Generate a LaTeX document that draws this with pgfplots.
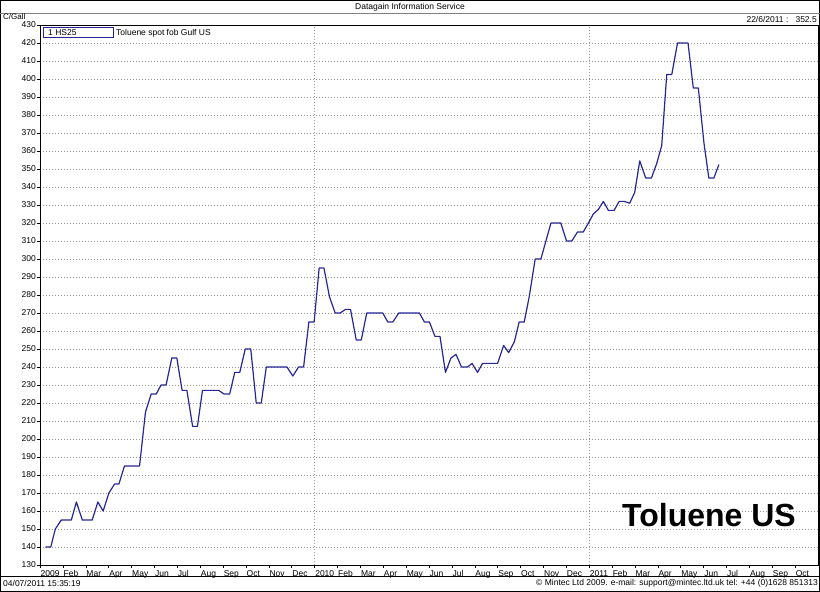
\documentclass[border=0pt]{standalone}
\usepackage{pgfplots}
\pgfplotsset{compat=1.18}
\usepackage{fontspec}
\setmainfont{Liberation Sans}
\definecolor{navyline}{RGB}{38,38,150}
\definecolor{gridgray}{RGB}{150,150,150}
\begin{document}
\begin{tikzpicture}
\fontsize{8.5}{10}\selectfont
\path[use as bounding box] (0,0) rectangle (820pt,592pt);
\begin{axis}[
  at={(40pt,27pt)}, anchor=south west, scale only axis,
  width=778pt, height=540pt,
  xmin=0, xmax=34, ymin=130, ymax=430,
  ytick={130,140,...,430},
  xtick={0,...,33},
  xtick pos=bottom, ytick pos=left,
  xticklabels={2009,Feb,Mar,Apr,May,Jun,Jul,Aug,Sep,Oct,Nov,Dec,2010,Feb,Mar,Apr,May,Jun,Jul,Aug,Sep,Oct,Nov,Dec,2011,Feb,Mar,Apr,May,Jun,Jul,Aug,Sep,Oct},
  xticklabel style={anchor=north west, inner sep=0pt, xshift=0.5pt, yshift=-2.5pt, font=\fontsize{8.5}{10}\selectfont},
  yticklabel style={inner sep=1pt, font=\fontsize{8.5}{10}\selectfont},
  /pgf/number format/assume math mode=true,
  ymajorgrids,
  grid style={gridgray, dash pattern=on 1pt off 2pt, line width=0.6pt},
  extra x ticks={12,24}, extra x tick labels={},
  extra x tick style={grid=major, major tick length=0pt},
  axis line style={black, line width=0.6pt},
  tick style={black, line width=0.5pt},
  tick align=outside, major tick length=3pt,
]
\addplot[navyline, line width=1.2pt, line join=round] coordinates {
(0.23,140) (0.47,140) (0.67,150) (0.93,155) (1.37,155) (1.59,165) (1.85,155) (2.28,155)
(2.53,165) (2.76,160) (3.01,170) (3.26,175) (3.45,175) (3.69,185) (4.35,185) (4.61,215)
(4.86,225) (5.08,225) (5.29,230) (5.51,230) (5.76,245) (5.98,245) (6.21,227) (6.42,227)
(6.67,207) (6.88,207) (7.10,227) (7.81,227) (8.04,225) (8.29,225) (8.51,237) (8.73,237)
(8.97,250) (9.21,250) (9.45,220) (9.67,220) (9.89,240) (10.79,240) (11.05,235) (11.30,240)
(11.52,240) (11.75,265) (11.98,265) (12.20,295) (12.41,295) (12.65,279) (12.90,270) (13.12,270)
(13.35,272) (13.57,272) (13.82,255) (14.04,255) (14.28,270) (14.98,270) (15.20,265) (15.42,265)
(15.68,270) (16.58,270) (16.80,265) (17.02,265) (17.26,257) (17.48,257) (17.72,237) (17.96,245)
(18.18,247) (18.42,240) (18.69,240) (18.88,242) (19.12,237) (19.34,242) (20.00,242) (20.26,252)
(20.48,248) (20.73,254) (20.94,265) (21.16,265) (21.38,279) (21.64,300) (21.89,300) (22.33,320)
(22.76,320) (23.01,310) (23.24,310) (23.49,315) (23.74,315) (23.97,320) (24.18,325) (24.40,327.5)
(24.62,332) (24.84,327) (25.09,327) (25.31,332) (25.53,332) (25.77,331) (25.99,337) (26.21,354.5)
(26.47,345) (26.72,345) (26.95,353) (27.17,363) (27.39,402.5) (27.61,402.5) (27.86,420) (28.32,420)
(28.55,395) (28.77,395) (29.02,364) (29.23,345) (29.45,345) (29.67,352.5)
};
\end{axis}
% frame and header/footer
\draw[black, line width=1.2pt] (0.6pt,0.6pt) rectangle (819.4pt,591.4pt);
\draw[gray, line width=0.8pt] (0pt,579pt) -- (820pt,579pt);
\draw[black, line width=0.8pt] (0pt,16pt) -- (820pt,16pt);
\node[font=\fontsize{8.5}{10}\selectfont] at (410pt,585pt) {Datagain Information Service};
\node[anchor=west, inner sep=0pt, font=\fontsize{8}{9}\selectfont] at (3pt,575pt) {C/Gall};
\node[anchor=east, inner sep=0pt, font=\fontsize{8.5}{10}\selectfont] at (817pt,573pt) {22/6/2011 :\ \ \ 352.5};
\node[anchor=west, inner sep=0pt, font=\fontsize{8.5}{10}\selectfont] at (3pt,8.5pt) {04/07/2011 15:35:19};
\node[anchor=east, inner sep=0pt, font=\fontsize{8.5}{10}\selectfont] at (818pt,8.5pt) {\textcopyright{} Mintec Ltd 2009. e-mail: support@mintec.ltd.uk tel: +44 (0)1628 851313};
% legend
\draw[navyline, line width=1pt] (43pt,554pt) rectangle (113pt,564pt);
\node[anchor=west, inner sep=0pt, font=\fontsize{8.5}{10}\selectfont] at (48pt,559pt) {1 HS25};
\node[anchor=west, inner sep=0pt, font=\fontsize{8.5}{10}\selectfont] at (116pt,559pt) {Toluene spot fob Gulf US};
% big label
\node[font=\bfseries\fontsize{32}{36}\selectfont, inner sep=0pt] at (709pt,77pt) {Toluene US};
\end{tikzpicture}
\end{document}
